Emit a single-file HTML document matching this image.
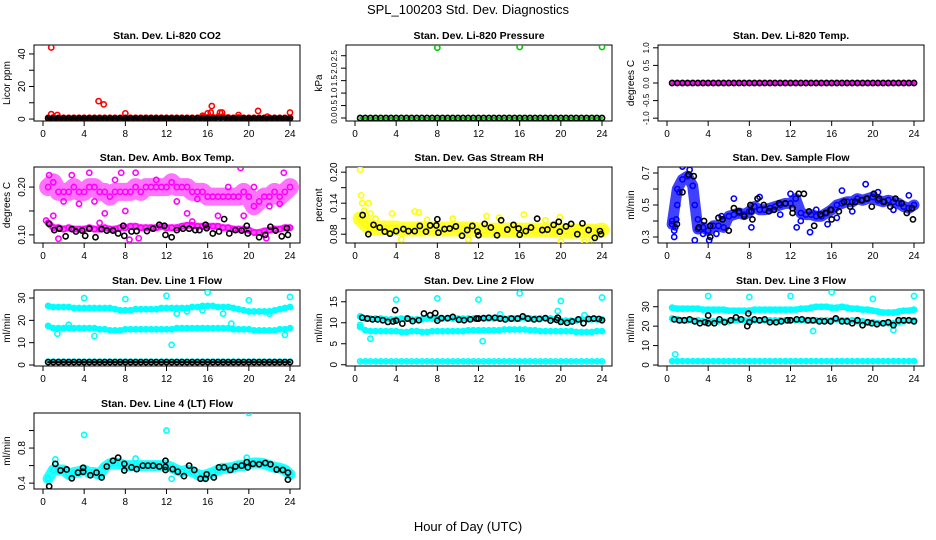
<!DOCTYPE html>
<html><head><meta charset="utf-8">
<style>
html,body{margin:0;padding:0;background:#fff;}
svg{display:block;font-family:"Liberation Sans",Arial,sans-serif;}
</style></head>
<body>
<svg id="chart" width="936" height="540" viewBox="0 0 936 540">
<text x="468" y="14" text-anchor="middle" font-size="13">SPL_100203  Std. Dev. Diagnostics</text>
<text x="468" y="531" text-anchor="middle" font-size="13">Hour of Day (UTC)</text>
</svg>
<script>
// shared hour grid (categories)
const H = [0.5,1,1.5,2,2.5,3,3.5,4,4.5,5,5.5,6,6.5,7,7.5,8,8.5,9,9.5,10,10.5,11,11.5,12,12.5,13,13.5,14,14.5,15,15.5,16,16.5,17,17.5,18,18.5,19,19.5,20,20.5,21,21.5,22,22.5,23,23.5,24];
const xTicks = [0,4,8,12,16,20,24];

// Panel 1 CO2
const co2Red = [0.8,1,0.8,0.8,0.8,0.8,0.8,0.8,0.8,0.8,0.8,0.8,0.8,0.8,0.8,0.8,0.8,0.8,0.8,0.8,0.8,0.8,0.8,0.8,0.8,0.8,0.8,0.8,0.8,0.8,1,1,1.2,1.5,1.5,1,0.8,1,0.8,0.8,0.8,0.8,0.8,0.8,0.8,0.8,0.8,0.8];
const co2Black = [0.4,0.4,0.4,0.4,0.4,0.4,0.4,0.4,0.4,0.4,0.4,0.4,0.4,0.4,0.4,0.4,0.4,0.4,0.4,0.4,0.4,0.4,0.4,0.4,0.4,0.4,0.4,0.4,0.4,0.4,0.4,0.4,0.4,0.4,0.4,0.4,0.4,0.4,0.4,0.4,0.4,0.4,0.4,0.4,0.4,0.4,0.4,0.4];
const co2Outliers = [[0.8,44],[0.8,3],[1.4,2.5],[5.4,11],[5.9,9],[8,3.5],[15.5,2],[16,3.5],[16.4,8],[16.3,4],[17.2,4],[17.4,4],[19,2.5],[20.9,5],[21.8,1.5],[24,4]];
const co2Ticks = [0,10,20,30,40];
const co2Labels = ["0","","20","","40"];

// Panel 2 Pressure
const presGreen = [0,0,0,0,0,0,0,0,0,0,0,0,0,0,0,0,0,0,0,0,0,0,0,0,0,0,0,0,0,0,0,0,0,0,0,0,0,0,0,0,0,0,0,0,0,0,0,0];
const presOutliers = [[8,2.82],[16,2.85],[24,2.85]];
const presTicks = [0,0.5,1,1.5,2,2.5];
const presLabels = ["0.0","0.5","1.0","1.5","2.0","2.5"];

// Panel 3 Temp
const tempMag = [0,0,0,0,0,0,0,0,0,0,0,0,0,0,0,0,0,0,0,0,0,0,0,0,0,0,0,0,0,0,0,0,0,0,0,0,0,0,0,0,0,0,0,0,0,0,0,0];
const tempTicks = [-1,-0.5,0,0.5,1];
const tempLabels = ["-1.0","-0.5","0.0","0.5","1.0"];

// Panel 4 Amb box temp
const ambUpper = [0.20,0.21,0.19,0.19,0.19,0.20,0.19,0.19,0.20,0.20,0.19,0.19,0.18,0.19,0.19,0.19,0.19,0.20,0.19,0.20,0.20,0.20,0.20,0.20,0.21,0.20,0.20,0.20,0.19,0.19,0.19,0.18,0.18,0.18,0.18,0.18,0.18,0.18,0.19,0.18,0.16,0.17,0.18,0.18,0.19,0.18,0.19,0.20];
const ambLower = [0.125,0.115,0.115,0.112,0.115,0.112,0.112,0.112,0.115,0.112,0.112,0.115,0.112,0.112,0.115,0.115,0.118,0.118,0.115,0.115,0.115,0.115,0.118,0.115,0.115,0.115,0.118,0.12,0.12,0.118,0.118,0.118,0.118,0.118,0.115,0.115,0.112,0.112,0.112,0.11,0.105,0.105,0.108,0.11,0.112,0.112,0.115,0.115];
const ambOutliers = [[0.6,0.225],[2.8,0.225],[4.5,0.23],[7.6,0.23],[9,0.23],[19.2,0.24],[23.4,0.23],[6,0.145],[1,0.14],[3.5,0.165],[8,0.15],[14,0.145],[17,0.14],[19.5,0.14],[22,0.16],[1.5,0.092],[5.5,0.125],[14.5,0.128],[21.7,0.093],[0.3,0.13],[8.4,0.09],[9.3,0.093],[2,0.17],[5,0.17],[7,0.215],[11,0.215],[13,0.17],[15,0.175],[18,0.2],[20.5,0.2],[23,0.165]];
const ambBlack = [[0.6,0.123],[1.1,0.11],[1.6,0.113],[2.2,0.097],[2.8,0.112],[3.2,0.107],[3.8,0.109],[4.1,0.098],[4.5,0.113],[5.1,0.095],[5.7,0.112],[6.2,0.109],[6.8,0.109],[7.3,0.103],[7.8,0.119],[7.9,0.098],[8.6,0.107],[9.1,0.108],[10.1,0.108],[10.7,0.113],[11.3,0.121],[11.8,0.119],[11.9,0.1],[12.5,0.095],[13.0,0.11],[13.6,0.113],[14.2,0.113],[14.8,0.11],[15.2,0.11],[15.8,0.121],[15.9,0.114],[16.5,0.103],[17.1,0.107],[17.6,0.133],[18.1,0.103],[18.7,0.11],[19.3,0.109],[19.8,0.119],[19.9,0.103],[21.0,0.095],[21.6,0.1],[22.1,0.117],[22.6,0.109],[23.2,0.097],[23.7,0.114],[23.8,0.1]];
const ambTicks = [0.10,0.15,0.20];
const ambLabels = ["0.10","","0.20"];

// Panel 5 Gas stream RH
const rhYellow = [0.11,0.1,0.092,0.092,0.092,0.092,0.092,0.092,0.09,0.09,0.09,0.09,0.09,0.09,0.09,0.09,0.09,0.09,0.09,0.09,0.09,0.09,0.09,0.088,0.088,0.088,0.088,0.088,0.088,0.088,0.088,0.088,0.088,0.088,0.088,0.088,0.088,0.088,0.088,0.088,0.086,0.086,0.086,0.086,0.086,0.086,0.086,0.088];
const rhOutliers = [[0.5,0.205],[0.6,0.155],[0.7,0.14],[0.9,0.125],[1.3,0.14],[1.5,0.12],[3.6,0.12],[5.8,0.124],[6.2,0.122],[12.8,0.115],[16.4,0.118],[19.9,0.113],[20,0.066],[22.3,0.065],[2,0.11],[4.5,0.07],[7,0.108],[9.5,0.11],[11,0.07],[14,0.112],[18.5,0.107],[23,0.07]];
const rhBlack = [[0.74,0.117],[1.3,0.08],[1.8,0.098],[2.4,0.093],[2.9,0.085],[3.4,0.081],[4.0,0.086],[4.7,0.09],[5.2,0.086],[5.8,0.086],[6.3,0.096],[6.9,0.085],[7.3,0.097],[7.9,0.097],[8.0,0.109],[8.1,0.083],[8.7,0.09],[9.2,0.091],[9.8,0.095],[10.4,0.077],[10.9,0.088],[11.4,0.096],[11.9,0.085],[12.0,0.078],[12.6,0.1],[13.2,0.093],[13.8,0.078],[14.2,0.107],[14.8,0.089],[15.4,0.098],[15.9,0.091],[16.0,0.079],[16.6,0.086],[17.1,0.093],[17.7,0.11],[18.2,0.088],[18.7,0.089],[19.3,0.098],[19.8,0.104],[19.9,0.085],[20.5,0.095],[21.0,0.1],[21.6,0.08],[22.1,0.101],[22.7,0.088],[23.3,0.073],[23.8,0.086],[23.9,0.08]];
const rhTicks = [0.08,0.11,0.14,0.17,0.20];
const rhLabels = ["0.08","","0.14","","0.20"];

// Panel 6 Sample flow
const sfBlue = [0.38,0.6,0.66,0.68,0.62,0.35,0.36,0.34,0.37,0.37,0.36,0.43,0.44,0.45,0.44,0.46,0.49,0.47,0.47,0.48,0.49,0.5,0.51,0.51,0.54,0.45,0.44,0.44,0.43,0.43,0.45,0.47,0.5,0.51,0.52,0.52,0.54,0.53,0.54,0.55,0.53,0.52,0.53,0.52,0.51,0.49,0.48,0.5];
const sfOutliers = [[0.5,0.4],[0.7,0.3],[0.7,0.34],[0.8,0.36],[0.9,0.41],[1.0,0.5],[1.5,0.74],[2.7,0.5],[2.7,0.28],[3.5,0.32],[4.1,0.28],[5.3,0.43],[8.2,0.36],[12.6,0.36],[13.9,0.33],[19.3,0.63],[17,0.59],[15.6,0.38],[1.2,0.58],[2.2,0.72],[3,0.41],[4.8,0.32],[6.5,0.54],[9,0.55],[11,0.44],[12,0.57],[13,0.4],[14.5,0.47],[16.5,0.42],[18,0.46],[20.5,0.58],[22,0.47],[23.5,0.56]];
const sfBlack = [[0.96,0.38],[1.5,0.58],[2.1,0.69],[2.6,0.68],[3.1,0.36],[3.6,0.40],[4.2,0.37],[4.2,0.30],[5.0,0.42],[5.4,0.41],[6.0,0.34],[6.5,0.48],[7.0,0.46],[7.5,0.43],[8.1,0.50],[8.2,0.46],[8.3,0.41],[8.8,0.54],[9.4,0.50],[9.9,0.46],[10.4,0.47],[10.9,0.51],[11.5,0.51],[12.2,0.48],[12.2,0.45],[12.8,0.57],[13.3,0.57],[13.8,0.46],[14.3,0.37],[14.9,0.44],[15.4,0.45],[15.9,0.47],[16.0,0.41],[16.7,0.46],[17.2,0.52],[17.8,0.49],[18.3,0.52],[18.9,0.53],[19.4,0.54],[19.9,0.49],[20.1,0.57],[20.6,0.54],[21.1,0.52],[21.7,0.49],[22.2,0.54],[22.8,0.51],[23.3,0.45],[23.8,0.48],[23.9,0.41]];
const sfTicks = [0.3,0.4,0.5,0.6,0.7];
const sfLabels = ["0.3","","0.5","","0.7"];

// Panel 7 Line 1
const l1Upper = [26.5,26,26,26,26,25.5,25.5,25.5,25.5,25.5,25.5,25.5,25.5,25,24.5,24.5,24.5,25,25,25,25,25,25.5,25.5,25.5,25.5,25.5,25.5,26,26,26.5,26.5,26.5,26,26,26,25.5,25,24.5,24,24,24,24,24,24.5,25,25.5,26];
const l1Middle = [17.5,16.5,16.5,16.5,16.5,16.5,16.5,16.5,16.5,16.5,16,16,15.5,15.5,15.5,16,16,16,16,16,16,16,16,16,16,16.5,16.5,16.5,16.5,16.5,16.5,16.5,16.5,16.5,16.5,16.5,16,16,16,16,15.5,15.5,15.5,15.5,15.5,16,16,16.5];
const l1Bottom = [1.5,1.5,1.5,1.5,1.5,1.5,1.5,1.5,1.5,1.5,1.5,1.5,1.5,1.5,1.5,1.5,1.5,1.5,1.5,1.5,1.5,1.5,1.5,1.5,1.5,1.5,1.5,1.5,1.5,1.5,1.5,1.5,1.5,1.5,1.5,1.5,1.5,1.5,1.5,1.5,1.5,1.5,1.5,1.5,1.5,1.5,1.5,1.5];
const l1Black = [1.3,1.3,1.3,1.3,1.3,1.3,1.3,1.3,1.3,1.3,1.3,1.3,1.3,1.3,1.3,1.3,1.3,1.3,1.3,1.3,1.3,1.3,1.3,1.3,1.3,1.3,1.3,1.3,1.3,1.3,1.3,1.3,1.3,1.3,1.3,1.3,1.3,1.3,1.3,1.3,1.3,1.3,1.3,1.3,1.3,1.3,1.3,1.3];
const l1Outliers = [[4,30],[8,29.5],[12,31],[16,32.5],[20,29],[24,30.5],[12.5,9],[1.4,14],[5,13],[23.5,13.5],[18.3,18.5],[2.5,18],[13,23],[17.5,23],[22,23],[14,24],[15.5,24.5]];
const l1Ticks = [0,10,20,30];
const l1Labels = ["0","10","20","30"];

// Panel 8 Line 2
const l2Upper = [11.5,11,11,11,11,10.8,10.8,10.8,11,11,10.8,10.8,10.8,11,11,11,11,11,11,11,11,11,11,11,11,11,11,11,11,11,11,11,11.2,11,11,11,11,11,10.8,10.5,10.5,10.5,10.5,10.8,10.8,10.8,10.8,10.8];
const l2Middle = [9,8.2,8,8,8,8,8,8,7.8,7.8,8,8,7.8,7.8,8,8,8,8,8,8,8,8.2,8.2,8.2,8.2,8.2,8.2,8.2,8.4,8.4,8.4,8.4,8.4,8.2,8.2,8,8,8,8,8,8,8,7.8,7.8,7.8,7.8,8,8];
const l2Bottom = [0.8,0.8,0.8,0.8,0.8,0.8,0.8,0.8,0.8,0.8,0.8,0.8,0.8,0.8,0.8,0.8,0.8,0.8,0.8,0.8,0.8,0.8,0.8,0.8,0.8,0.8,0.8,0.8,0.8,0.8,0.8,0.8,0.8,0.8,0.8,0.8,0.8,0.8,0.8,0.8,0.8,0.8,0.8,0.8,0.8,0.8,0.8,0.8];
const l2Outliers = [[4,15.5],[8,15.8],[12,15.5],[16,17],[20,15.2],[24,16],[1.5,6.2],[12.4,5.6],[0.5,9.5],[19.7,12.8],[14.1,12],[22.3,11.8]];
const l2Black = [[0.7,11.2],[1.2,11],[1.7,10.8],[2.2,10.8],[2.7,10.6],[3.2,10.2],[3.7,10.3],[3.9,13],[4.0,10.5],[4.6,9.8],[5.1,11],[5.6,10.4],[6.2,10.6],[6.7,12.2],[7.3,11.8],[7.8,12.3],[8.0,10.5],[8.4,11.1],[9.0,11.1],[9.5,11.4],[10.1,10.7],[10.6,10.6],[11.2,10.8],[11.8,11],[12.0,11],[12.5,11.1],[13.0,11.2],[13.6,11.2],[14.1,11],[14.6,10.8],[15.2,11],[15.8,11],[16.3,11.5],[16.8,11],[17.4,10.8],[17.9,10.9],[18.5,11.1],[19.0,10.5],[19.6,10.7],[19.7,11.2],[20.0,10.2],[20.6,10],[21.1,10.3],[21.7,10.8],[22.2,9.9],[22.7,10.9],[23.2,11],[23.7,10.9],[24,10.6]];
const l2Ticks = [0,5,10,15];
const l2Labels = ["0","5","10","15"];

// Panel 9 Line 3
const l3Upper = [29.5,29,29,29,29,29,28.5,28.5,28.5,28.5,28.5,28,28,28,28,28,28.5,28.5,28.5,28.5,28.5,28.5,28.5,28.5,28.5,29,29,29.5,30,30,30,29.5,29.5,30,29.5,29,29,28.5,28.5,28,27.5,27,27,27,27.5,28,28,28.5];
const l3Middle = [24,23.5,23,23,23,23,22.5,22.5,22.5,22.5,22.5,22.5,23,23,23,23,23,23,23,23,23,23,23,23,23,23,23,23,23,23,23,23,23.5,23,23,23,22.5,22.5,22,22,21.5,21.5,21.5,21.5,22,22.5,23,23];
const l3Bottom = [2,2,2,2,2,2,2,2,2,2,2,2,2,2,2,2,2,2,2,2,2,2,2,2,2,2,2,2,2,2,2,2,2,2,2,2,2,2,2,2,2,2,2,2,2,2,2,2];
const l3Outliers = [[4,35.5],[8,35],[12,35.5],[16,37.5],[20,34],[24,35.5],[0.8,5.5],[14.2,17.5],[22,18]];
const l3Black = [[0.7,23.5],[1.2,23],[1.7,23],[2.2,23.5],[2.7,22.5],[3.2,21.5],[3.7,22],[4.0,25.5],[4.0,21.5],[4.6,21.5],[5.1,23.5],[5.6,22],[6.2,23],[6.7,24.5],[7.2,23.5],[7.8,20],[7.9,26.5],[8.0,22],[8.5,23.5],[9,23],[9.5,23.5],[10,22],[10.6,22],[11.1,22.5],[11.7,23],[12,23],[12.6,23.5],[13.1,23.5],[13.7,23],[14.2,23],[14.8,22.5],[15.3,22.5],[15.9,22.5],[16.4,24],[17,22.5],[17.5,22.5],[18,21.5],[18.5,23],[19,20.5],[19.5,22],[19.9,21.5],[20.4,21],[21,21.5],[21.5,22],[22,20.5],[22.5,23],[23,23],[23.5,23],[24,22.5]];
const l3Ticks = [0,10,20,30];
const l3Labels = ["0","10","20","30"];

// Panel 10 Line 4
const l4Cyan = [0.45,0.55,0.55,0.55,0.5,0.52,0.53,0.55,0.52,0.52,0.5,0.58,0.62,0.63,0.62,0.6,0.6,0.6,0.6,0.6,0.6,0.6,0.6,0.6,0.58,0.55,0.53,0.55,0.53,0.5,0.48,0.5,0.52,0.55,0.57,0.57,0.58,0.6,0.6,0.62,0.63,0.63,0.62,0.6,0.58,0.57,0.55,0.5];
const l4Outliers = [[4,0.95],[12,1.0],[20,1.2],[12.5,0.45],[1.2,0.67],[9,0.68],[19.8,0.69]];
const l4Black = [[0.6,0.364],[1.2,0.62],[1.7,0.545],[2.3,0.556],[2.8,0.455],[3.4,0.52],[3.9,0.575],[3.9,0.53],[4.6,0.49],[5.2,0.52],[5.7,0.465],[6.2,0.59],[6.8,0.655],[7.3,0.69],[7.9,0.62],[7.9,0.545],[8.6,0.58],[9.1,0.56],[9.7,0.6],[10.2,0.6],[10.7,0.6],[11.3,0.59],[11.9,0.585],[11.9,0.655],[11.9,0.55],[12.6,0.56],[13.1,0.53],[13.7,0.48],[14.2,0.6],[14.7,0.55],[15.3,0.45],[15.8,0.45],[15.9,0.5],[16.6,0.465],[17.1,0.58],[17.6,0.58],[18.2,0.55],[18.7,0.59],[19.3,0.6],[19.8,0.64],[19.9,0.58],[20.4,0.62],[21.0,0.615],[21.6,0.63],[22.1,0.615],[22.7,0.555],[23.3,0.55],[23.8,0.52],[23.8,0.44]];
const l4Ticks = [0.4,0.6,0.8,1.0];
const l4Labels = ["0.4","","0.8",""];

const NS = "http://www.w3.org/2000/svg";
const svg = document.getElementById("chart");
function mk(tag, attrs, parent){ const e=document.createElementNS(NS,tag); for(const k in attrs) e.setAttribute(k,attrs[k]); (parent||svg).appendChild(e); return e; }

const COLS=[34,346,658], ROWS=[45,167,290,413], W=266, HT=76;

function makePanel(col,row,title,ylab,ylim,yt,yl,name){
  const L=COLS[col], T=ROWS[row];
  const g = mk("g",{});
  
  
  const xs = v => L + 9 + v/24*247;
  const ys = v => T + HT - (v-ylim[0])/(ylim[1]-ylim[0])*HT;
  const t = mk("text",{x:L+W/2,y:T-6,"text-anchor":"middle","font-size":"10.5","font-weight":"bold"},g);
  t.textContent = title;
  
  
  const box = mk("rect",{x:L,y:T,width:W,height:HT,fill:"none",stroke:"#000","stroke-width":1},g);
  
  
  const xa = mk("g",{},g);
  
  
  xTicks.forEach(v=>{
    mk("line",{x1:xs(v),x2:xs(v),y1:T+HT,y2:T+HT+5,stroke:"#000"},xa);
    const tx = mk("text",{x:xs(v),y:T+HT+16,"text-anchor":"middle","font-size":"10"},xa);
    tx.textContent = v;
  });
  const ya = mk("g",{},g);
  
  
  const fs = yt.length>=5 && yl.every(s=>s!=="") ? 8 : 10;
  yt.forEach((v,i)=>{
    mk("line",{x1:L,x2:L-5,y1:ys(v),y2:ys(v),stroke:"#000"},ya);
    if(yl[i]){
      const ty = mk("text",{x:L-9,y:ys(v),"text-anchor":"middle","font-size":fs,transform:`rotate(-90 ${L-9} ${ys(v)})`},ya);
      ty.textContent = yl[i];
    }
  });
  const yt2 = mk("text",{x:L-24,y:T+HT/2,"text-anchor":"middle","font-size":"10",transform:`rotate(-90 ${L-24} ${T+HT/2})`},g);
  yt2.textContent = ylab;
  
  
  const clip = "clip"+col+row;
  const cp = mk("clipPath",{id:clip},g); mk("rect",{x:L,y:T,width:W,height:HT},cp);
  const plot = mk("g",{"clip-path":`url(#${clip})`},g);
  
  
  return {
    band(vals,color,w,op){
      const s = mk("g",{},plot);
      
      
      if(w>0) mk("polyline",{points:H.map((h,i)=>xs(h)+","+ys(vals[i])).join(" "),fill:"none",stroke:color,"stroke-width":w,"stroke-opacity":op||1,"stroke-linejoin":"round","stroke-linecap":"round"},s);
      H.forEach((h,i)=>{ const c=mk("circle",{cx:xs(h),cy:ys(vals[i]),r:2.6,fill:"none",stroke:color,"stroke-width":1.6},s);
        
         });
    },
    pts(pairs,color){
      const s = mk("g",{},plot);
      
      
      pairs.forEach(p=>{ const c=mk("circle",{cx:xs(p[0]),cy:ys(p[1]),r:2.6,fill:"none",stroke:color,"stroke-width":1.6},s);
        
         });
    }
  };
}

let p;
p = makePanel(0,0,"Stan. Dev. Li-820 CO2","Licor ppm",[-1.2,45.5],co2Ticks,co2Labels,"panel-co2");
p.band(co2Red,"#ff0000",4); p.pts(co2Outliers,"#ff0000"); p.band(co2Black,"#000",3);

p = makePanel(1,0,"Stan. Dev. Li-820 Pressure","kPa",[-0.12,2.93],presTicks,presLabels,"panel-pressure");
p.band(presGreen,"#00cc00",2); p.pts(presOutliers,"#00cc00"); p.band(presGreen,"#000",0);

p = makePanel(2,0,"Stan. Dev. Li-820 Temp.","degrees C",[-1.08,1.08],tempTicks,tempLabels,"panel-temp");
p.band(tempMag,"#ff00ff",3); p.band(tempMag,"#000",0);

p = makePanel(0,1,"Stan. Dev. Amb. Box Temp.","degrees C",[0.083,0.242],ambTicks,ambLabels,"panel-amb-box-temp");
p.band(ambUpper,"#ff00ff",18,0.55); p.band(ambLower,"#ff00ff",7,0.7); p.pts(ambOutliers,"#ff00ff"); p.pts(ambBlack,"#000");

p = makePanel(1,1,"Stan. Dev. Gas Stream RH","percent",[0.063,0.21],rhTicks,rhLabels,"panel-gas-rh");
p.band(rhYellow,"#ffff00",15,0.8); p.pts(rhOutliers,"#ffff00"); p.pts(rhBlack,"#000");

p = makePanel(2,1,"Stan. Dev. Sample Flow","ml/min",[0.2625,0.7375],sfTicks,sfLabels,"panel-sample-flow");
p.band(sfBlue,"#0000ff",11,0.75); p.pts(sfOutliers,"#0000ff"); p.pts(sfBlack,"#000");

p = makePanel(0,2,"Stan. Dev. Line 1 Flow","ml/min",[-0.45,33.6],l1Ticks,l1Labels,"panel-line1-flow");
p.band(l1Upper,"#00ffff",5); p.band(l1Middle,"#00ffff",5); p.band(l1Bottom,"#00ffff",3); p.pts(l1Outliers,"#00ffff"); p.band(l1Black,"#000",2);

p = makePanel(1,2,"Stan. Dev. Line 2 Flow","ml/min",[-0.3,17.8],l2Ticks,l2Labels,"panel-line2-flow");
p.band(l2Upper,"#00ffff",5); p.band(l2Middle,"#00ffff",5); p.band(l2Bottom,"#00ffff",3); p.pts(l2Outliers,"#00ffff"); p.pts(l2Black,"#000");

p = makePanel(2,2,"Stan. Dev. Line 3 Flow","ml/min",[-0.5,38.6],l3Ticks,l3Labels,"panel-line3-flow");
p.band(l3Upper,"#00ffff",6); p.band(l3Middle,"#00ffff",5); p.band(l3Bottom,"#00ffff",4); p.pts(l3Outliers,"#00ffff"); p.pts(l3Black,"#000");

p = makePanel(0,3,"Stan. Dev. Line 4 (LT) Flow","ml/min",[0.333,1.2],l4Ticks,l4Labels,"panel-line4-flow");
p.band(l4Cyan,"#00ffff",11,0.85); p.pts(l4Outliers,"#00ffff"); p.pts(l4Black,"#000");
</script>
</body></html>
